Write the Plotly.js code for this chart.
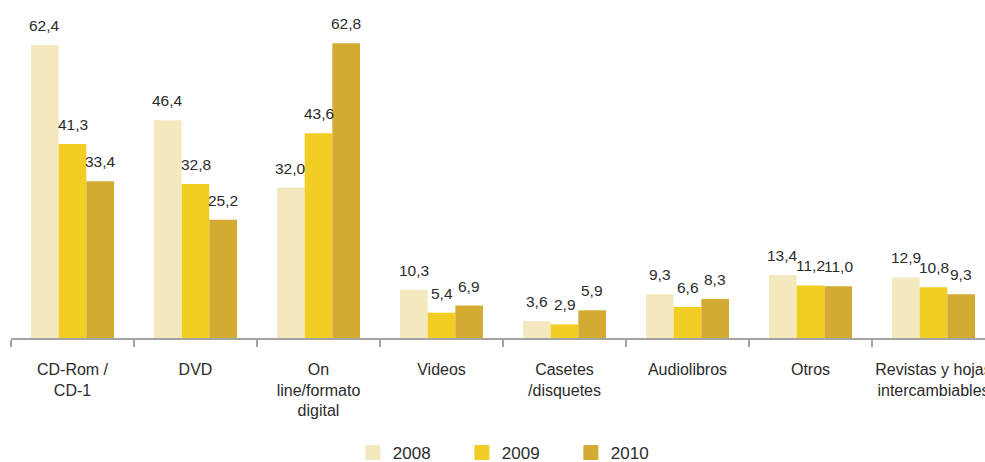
<!DOCTYPE html>
<html>
<head>
<meta charset="utf-8">
<script src="https://cdn.plot.ly/plotly-3.0.1.min.js"></script>
<style>html,body{margin:0;padding:0;background:#fff;}#chart{width:985px;height:462px;}</style>
</head>
<body>
<div id="chart"></div>
<script>
const categories = ["CD-Rom /<br>CD-1", "DVD", "On<br>line/formato<br>digital", "Videos", "Casetes<br>/disquetes", "Audiolibros", "Otros", "Revistas y hojas<br>intercambiables"];
const years = ["2008", "2009", "2010"];
const values2008 = [62.4, 46.4, 32.0, 10.3, 3.6, 9.3, 13.4, 12.9];
const values2009 = [41.3, 32.8, 43.6, 5.4, 2.9, 6.6, 11.2, 10.8];
const values2010 = [33.4, 25.2, 62.8, 6.9, 5.9, 8.3, 11.0, 9.3];
const colors = ["#F3E8BE", "#F2CD24", "#D3AB33"];

const FONT = '"Liberation Sans", Arial, sans-serif';
const series = [values2008, values2009, values2010];

const traces = [];
series.forEach((vals, i) => {
  traces.push({
    type: 'bar', x: categories, y: vals, name: years[i],
    marker: {color: colors[i]}, showlegend: false, hoverinfo: 'skip'
  });
});
series.forEach((vals, i) => {
  traces.push({
    type: 'scatter', mode: 'markers', x: [null], y: [null], name: years[i],
    marker: {symbol: 'square', size: 15, color: colors[i]}, showlegend: true
  });
});

const annotations = [];
const barPx = 27.7;
series.forEach((vals, i) => {
  vals.forEach((v, j) => {
    annotations.push({
      x: categories[j], y: v, xref: 'x', yref: 'y',
      text: v.toFixed(1).replace('.', ','),
      showarrow: false, yanchor: 'bottom', xanchor: 'center',
      xshift: (i - 1) * barPx, yshift: 9,
      font: {family: FONT, size: 15.5, color: '#2b2b2b'}
    });
  });
});

const layout = {
  width: 985, height: 462,
  margin: {l: 11, r: 0, t: 0, b: 124, autoexpand: false},
  paper_bgcolor: '#fff', plot_bgcolor: '#fff',
  barmode: 'group', bargap: 0.325, bargroupgap: 0,
  xaxis: {
    type: 'category', range: [-0.5, 7.5 - 10/123],
    showline: true, linecolor: '#a3a3a3', linewidth: 1.5,
    ticks: 'outside', tickson: 'boundaries', ticklen: 7, tickcolor: '#a3a3a3', tickwidth: 1.5,
    showgrid: false, zeroline: false, automargin: false,
    tickfont: {family: FONT, size: 16, color: '#2b2b2b'},
    ticklabelstandoff: 16
  },
  yaxis: {range: [0, 72], visible: false, showgrid: false, zeroline: false, fixedrange: true},
  showlegend: true,
  legend: {
    orientation: 'h', x: 0.351, xanchor: 'left', y: -0.34, yanchor: 'middle',
    entrywidth: 64, entrywidthmode: 'pixels',
    font: {family: FONT, size: 17, color: '#2b2b2b'},
    bgcolor: 'rgba(0,0,0,0)'
  },
  annotations: annotations,
  font: {family: FONT}
};

Plotly.newPlot('chart', traces, layout, {displayModeBar: false, staticPlot: true});
</script>
</body>
</html>
